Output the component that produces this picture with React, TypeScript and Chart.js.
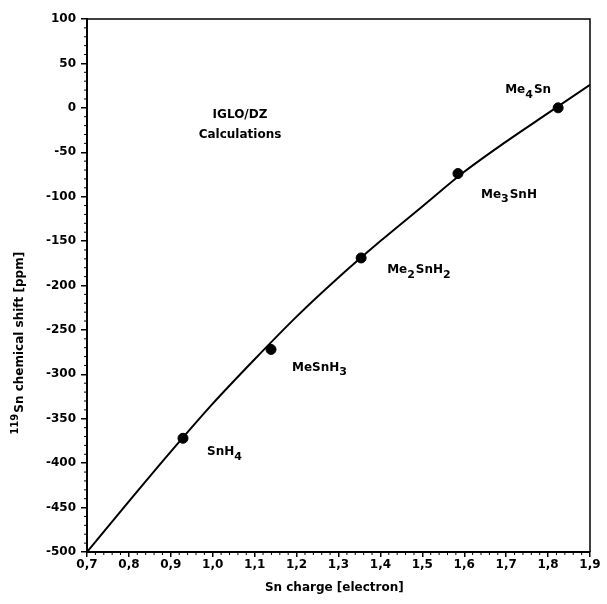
import React, { useEffect, useRef } from 'react';
import { Chart, registerables } from 'chart.js';

Chart.register(...registerables);

// Calculated points (IGLO/DZ)
const compounds = ['SnH4', 'MeSnH3', 'Me2SnH2', 'Me3SnH', 'Me4Sn'];
const snCharge = [0.929, 1.139, 1.354, 1.585, 1.824];
const chemShift = [-372, -272, -169, -74, 0];

// Fitted curve
const fitCharge = [0.7, 0.8, 0.9, 1.0, 1.1, 1.2, 1.3, 1.4, 1.5, 1.6, 1.7, 1.8, 1.9];
const fitShift = [-500, -443, -387, -333, -283, -235, -191, -150, -111, -72, -38, -6, 26];

// Axis ranges / tick steps
const xRange = [0.7, 1.9];
const yRange = [-500, 100];
const xStep = 0.1;
const yStep = 50;

// Label offsets (pixels) relative to each point
const labelDx = [24, 21, 26, 23, -53];
const labelDy = [14, 18, 12, 21, -18];

const noteLines = ['IGLO/DZ', 'Calculations'];
const xTitle = 'Sn charge [electron]';
const yTitleSup = '119';
const yTitleMain = 'Sn chemical shift [ppm]';

const FONT = "'DejaVu Sans', Verdana, sans-serif";

function drawFormula(ctx: CanvasRenderingContext2D, text: string, x: number, y: number) {
  let cx = x;
  const parts = text.match(/(\d+|\D+)/g) || [];
  for (const p of parts) {
    const sub = /^\d+$/.test(p);
    ctx.font = `bold ${sub ? 11 : 12}px ${FONT}`;
    ctx.fillText(p, cx, sub ? y + 5 : y);
    cx += ctx.measureText(p).width + (sub ? 1 : 0);
  }
}

export default function App() {
  const ref = useRef<HTMLCanvasElement>(null);

  useEffect(() => {
    const canvas = ref.current;
    if (!canvas) return;

    const deco = {
      id: 'deco',
      afterDraw(chart: any) {
        const { ctx, chartArea: a, scales } = chart;
        const xs = scales.x;
        const ys = scales.y;
        ctx.save();
        ctx.strokeStyle = '#000';
        ctx.fillStyle = '#000';
        // top and right frame
        ctx.lineWidth = 1.5;
        ctx.beginPath();
        ctx.moveTo(a.left, a.top);
        ctx.lineTo(a.right, a.top);
        ctx.lineTo(a.right, a.bottom);
        ctx.stroke();
        // minor ticks
        ctx.lineWidth = 1;
        ctx.beginPath();
        for (let i = 1; i < 60; i++) {
          if (i % 5 === 0) continue;
          const px = xs.getPixelForValue(xRange[0] + i * 0.02);
          ctx.moveTo(px, a.bottom);
          ctx.lineTo(px, a.bottom + 3);
        }
        for (let v = yRange[0] + 10; v < yRange[1]; v += 10) {
          if (v % 50 === 0) continue;
          const py = ys.getPixelForValue(v);
          ctx.moveTo(a.left, py);
          ctx.lineTo(a.left - 3, py);
        }
        ctx.stroke();

        // compound labels
        ctx.textBaseline = 'middle';
        ctx.textAlign = 'left';
        compounds.forEach((c, i) => {
          const px = xs.getPixelForValue(snCharge[i]) + labelDx[i];
          const py = ys.getPixelForValue(chemShift[i]) + labelDy[i];
          drawFormula(ctx, c, px, py);
        });

        // note
        ctx.textAlign = 'center';
        ctx.font = `bold 12px ${FONT}`;
        const nx = xs.getPixelForValue(1.065);
        ctx.fillText(noteLines[0], nx, ys.getPixelForValue(-8));
        ctx.fillText(noteLines[1], nx, ys.getPixelForValue(-30));

        // x title
        ctx.fillText(xTitle, xs.getPixelForValue(1.29), 588);

        // y title (rotated, with superscript)
        ctx.save();
        ctx.translate(19, ys.getPixelForValue(-265));
        ctx.rotate(-Math.PI / 2);
        ctx.textAlign = 'left';
        ctx.font = `bold 10px ${FONT}`;
        const wSup = ctx.measureText(yTitleSup).width + 1;
        ctx.font = `bold 12px ${FONT}`;
        const wMain = ctx.measureText(yTitleMain).width;
        const start = -(wSup + wMain) / 2;
        ctx.font = `bold 10px ${FONT}`;
        ctx.fillText(yTitleSup, start, -4);
        ctx.font = `bold 12px ${FONT}`;
        ctx.fillText(yTitleMain, start + wSup, 1);
        ctx.restore();

        ctx.restore();
      },
    };

    const chart = new Chart(canvas, {
      type: 'scatter',
      data: {
        datasets: [
          {
            type: 'line',
            data: fitCharge.map((x, i) => ({ x, y: fitShift[i] })),
            borderColor: '#000',
            borderWidth: 2,
            pointRadius: 0,
            cubicInterpolationMode: 'monotone',
            fill: false,
          } as any,
          {
            data: snCharge.map((x, i) => ({ x, y: chemShift[i] })),
            backgroundColor: '#000',
            borderColor: '#000',
            pointRadius: 5,
            pointHoverRadius: 5,
          },
        ],
      },
      options: {
        animation: false,
        responsive: true,
        maintainAspectRatio: false,
        events: [],
        layout: { padding: { top: 19, right: 17, left: 0, bottom: 0 } },
        plugins: { legend: { display: false }, tooltip: { enabled: false }, title: { display: false } },
        scales: {
          x: {
            type: 'linear',
            min: xRange[0],
            max: xRange[1],
            afterFit: (s: any) => { s.height = 52; },
            ticks: {
              stepSize: xStep,
              color: '#000',
              padding: 1,
              font: { family: FONT, size: 12, weight: 'bold' },
              callback: (v: any) => Number(v).toFixed(1).replace('.', ','),
              maxRotation: 0,
              autoSkip: false,
            },
            grid: { display: true, drawOnChartArea: false, drawTicks: true, tickLength: 5, color: '#000', lineWidth: 1.5 },
            border: { display: true, color: '#000', width: 2 },
          },
          y: {
            type: 'linear',
            min: yRange[0],
            max: yRange[1],
            afterFit: (s: any) => { s.width = 87; },
            ticks: {
              stepSize: yStep,
              color: '#000',
              padding: 5,
              font: { family: FONT, size: 12, weight: 'bold' },
              callback: (v: any) => String(v),
              autoSkip: false,
            },
            grid: { display: true, drawOnChartArea: false, drawTicks: true, tickLength: 6, color: '#000', lineWidth: 1.5 },
            border: { display: true, color: '#000', width: 2 },
          },
        },
      },
      plugins: [deco],
    });

    return () => chart.destroy();
  }, []);

  return (
    <div style={{ position: 'fixed', left: 0, top: 0, width: 607, height: 604, background: '#fff' }}>
      <canvas ref={ref} />
    </div>
  );
}
